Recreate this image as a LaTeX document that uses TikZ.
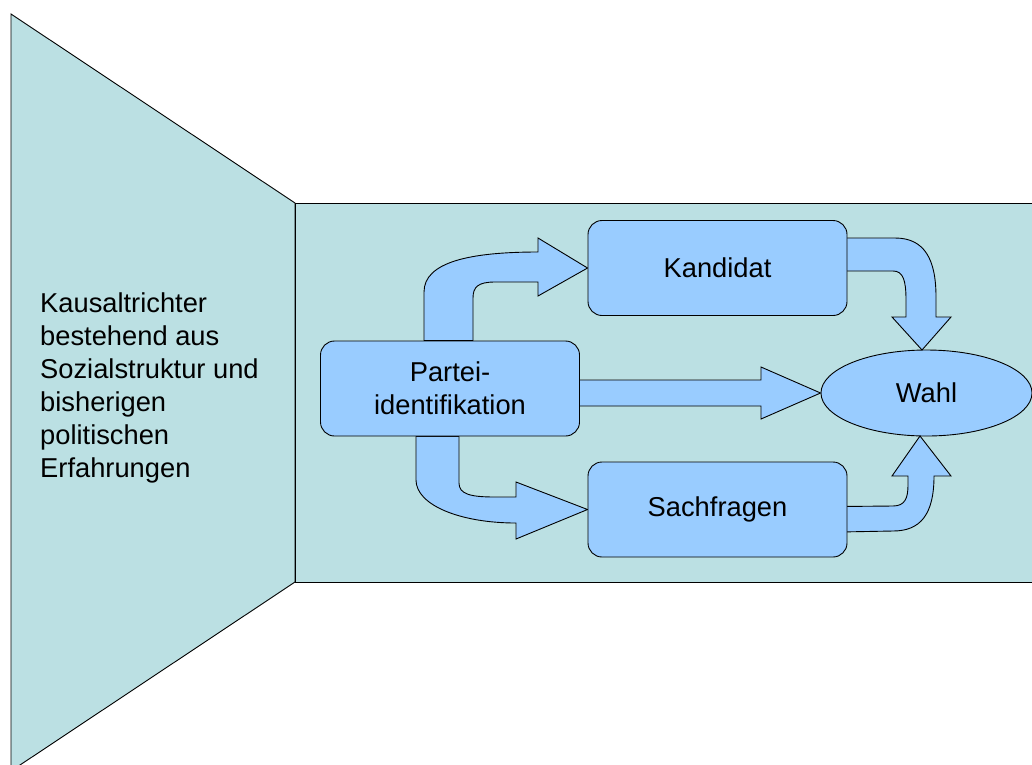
\documentclass[tikz,border=0pt]{standalone}
\usepackage{fontspec}
\setmainfont{Liberation Sans}
\usetikzlibrary{shapes.geometric,calc}
\definecolor{funnel}{HTML}{BBE0E3}
\definecolor{boxblue}{HTML}{99CCFF}
\pgfdeclarelayer{back}
\pgfdeclarelayer{arrows}
\pgfsetlayers{back,arrows,main}
\begin{document}
\begin{tikzpicture}[x=1pt,y=-1pt,
  panel/.style={draw=black, fill=funnel, line width=0.9pt, line join=miter},
  box/.style={draw=black, fill=boxblue, rounded corners=14pt, minimum width=259pt,
    minimum height=95pt, inner sep=0pt, align=center, line width=0.9pt,
    font=\fontsize{27.3}{33}\selectfont},
  oval/.style={draw=black, fill=boxblue, ellipse, minimum width=211pt,
    minimum height=86pt, inner sep=0pt, line width=0.9pt,
    font=\fontsize{27.3}{33}\selectfont},
  blockarrow/.style={draw=black, fill=boxblue, line width=0.9pt, line join=miter},
  sidetext/.style={align=left, inner sep=0pt, font=\fontsize{27.3}{33}\selectfont}]
\useasboundingbox (0,0) rectangle (1032,764);

% nodes
\node[box] (P) at (450,388.5) {Partei-\\identifikation};
\node[box] (K) at (717.5,268) {Kandidat};
\node[box] (S) at (717.5,509.5) {Sachfragen};
\node[oval] (W) at (926.5,393) {Wahl};
\node[sidetext, anchor=north west] (T) at (40,293)
  {Kausaltrichter\\bestehend aus\\Sozialstruktur und\\bisherigen\\politischen\\Erfahrungen};

% background panels
\begin{pgfonlayer}{back}
  \clip (0,0) rectangle (1032,764);
  \path[panel] (11,14) -- (295,203) -- (295,582) -- (11,771) -- cycle;
  \path[panel] (295,203) rectangle (1045,582);
\end{pgfonlayer}

% block arrows
\begin{pgfonlayer}{arrows}
  % Partei -> Kandidat
  \path[blockarrow] (424,0 |- P.north) -- (424,292)
    .. controls (424,262) and (470,252) .. (538,252) -- (538,238) -- (K.west)
    -- (538,296) -- (538,282) -- (495,282)
    .. controls (478,282) and (473,287) .. (473,298) -- (473,0 |- P.north) -- cycle;
  % Partei -> Wahl
  \path[blockarrow] ($(P.east)+(-10,-8.5)$) -- (761,380) -- (761,367) -- (W.west)
    -- (761,419) -- (761,406) -- ($(P.east)+(-10,17.5)$) -- cycle;
  % Partei -> Sachfragen
  \path[blockarrow] (416,0 |- P.south) -- (416,480)
    .. controls (416,505) and (460,523) .. (516,523) -- (516,539) -- (S.west)
    -- (516,482) -- (516,497) -- (495,497)
    .. controls (470,497) and (459,494) .. (459,483) -- (459,0 |- P.south) -- cycle;
  % Kandidat -> Wahl
  \path[blockarrow] ($(K.east)+(-8,-30)$) -- (895,238)
    .. controls (925,238) and (936,260) .. (936,297) -- (936,317) -- (951,317)
    -- (922,350) -- (892,317) -- (906,317) -- (906,300)
    .. controls (906,280) and (903,271) .. (893,271) -- ($(K.east)+(-8,3)$) -- cycle;
  % Sachfragen -> Wahl
  \path[blockarrow] ($(S.east)+(-8,-3)$) -- (893,506)
    .. controls (905,506) and (908,498) .. (908,485) -- (908,476) -- (892,476)
    -- (920,436) -- (951,476) -- (934,476)
    .. controls (934,515) and (920,531) .. (893,531) -- ($(S.east)+(-8,22.5)$) -- cycle;
\end{pgfonlayer}
\end{tikzpicture}
\end{document}
